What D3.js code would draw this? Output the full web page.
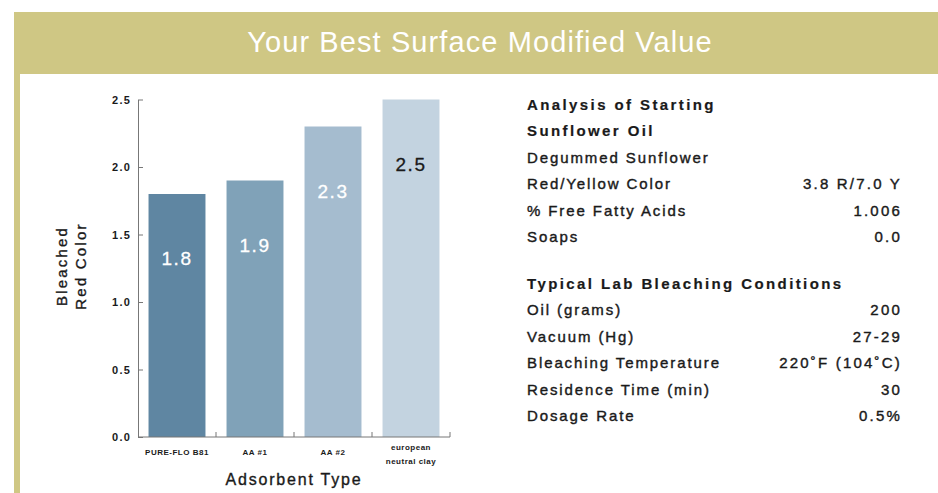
<!DOCTYPE html>
<html>
<head>
<meta charset="utf-8">
<script src="https://cdn.jsdelivr.net/npm/d3@7"></script>
<style>
  html, body { margin: 0; padding: 0; background: #ffffff; }
  svg { display: block; font-family: "Liberation Sans", Arial, Helvetica, sans-serif; }
</style>
</head>
<body>
<svg id="chart" width="938" height="493"></svg>
<script>
// ---- data ----
const title = "Your Best Surface Modified Value";
const categories = ["PURE-FLO B81", "AA #1", "AA #2", "european\nneutral clay"];
const values = [1.8, 1.9, 2.3, 2.5];
const yTicks = [0, 0.5, 1.0, 1.5, 2.0, 2.5];
const yTitleLines = ["Bleached", "Red Color"];
const xTitle = "Adsorbent Type";

const analysisLabels = ["Analysis of Starting", "Sunflower Oil", "Degummed Sunflower", "Red/Yellow Color", "% Free Fatty Acids", "Soaps"];
const analysisValues = ["", "", "", "3.8 R/7.0 Y", "1.006", "0.0"];
const analysisBold = [true, true, false, false, false, false];
const conditionLabels = ["Typical Lab Bleaching Conditions", "Oil (grams)", "Vacuum (Hg)", "Bleaching Temperature", "Residence Time (min)", "Dosage Rate"];
const conditionValues = ["", "200", "27-29", "220\u02DAF (104\u02DAC)", "30", "0.5%"];
const conditionBold = [true, false, false, false, false, false];

// ---- styles ----
const barColors = ["#5f86a2", "#80a2b8", "#a5bccf", "#c3d3e0"];
const labelColors = ["#ffffff", "#ffffff", "#ffffff", "#1a1a1a"];
const gold = "#cfc784";
const ink = "#1a1a1a";

const svg = d3.select("#chart");

// frame: banner + left strip
svg.append("rect").attr("x", 14).attr("y", 12).attr("width", 924).attr("height", 62).attr("fill", gold);
svg.append("rect").attr("x", 14).attr("y", 12).attr("width", 6).attr("height", 481).attr("fill", gold);
svg.append("text")
  .attr("x", 480).attr("y", 52)
  .attr("text-anchor", "middle")
  .attr("fill", "#ffffff")
  .attr("font-size", 29)
  .attr("letter-spacing", 1.1)
  .text(title);

// ---- chart ----
const x0 = 138, x1 = 450, yBottom = 437, yTop = 99.5;
const x = d3.scaleBand().domain(d3.range(categories.length)).range([x0, x1])
  .paddingInner(0.27).paddingOuter(0.135);
const y = d3.scaleLinear().domain([0, 2.5]).range([yBottom, yTop]);

const g = svg.append("g");

g.selectAll("rect.bar").data(values).join("rect")
  .attr("class", "bar")
  .attr("x", (d, i) => x(i))
  .attr("y", d => y(d))
  .attr("width", x.bandwidth())
  .attr("height", d => y(0) - y(d))
  .attr("fill", (d, i) => barColors[i]);

g.selectAll("text.val").data(values).join("text")
  .attr("class", "val")
  .attr("x", (d, i) => x(i) + x.bandwidth() / 2)
  .attr("y", d => y(d) + 71)
  .attr("text-anchor", "middle")
  .attr("font-size", 19)
  .attr("letter-spacing", 1.5)
  .attr("fill", (d, i) => labelColors[i])
  .attr("stroke", (d, i) => labelColors[i])
  .attr("stroke-width", 0.3)
  .text(d => d3.format(".1f")(d));

// y axis
const yAxis = d3.axisLeft(y).tickValues(yTicks).tickFormat(d3.format(".1f"))
  .tickSizeInner(-5).tickSizeOuter(0).tickPadding(7);
const ya = svg.append("g").attr("transform", `translate(${x0},0)`).call(yAxis);
ya.select(".domain").attr("stroke", "#777");
ya.selectAll(".tick line").attr("stroke", "#777");
ya.selectAll(".tick text")
  .attr("font-family", "Liberation Sans, Arial, sans-serif")
  .attr("font-size", 11).attr("font-weight", "bold")
  .attr("letter-spacing", 1.2)
  .attr("fill", ink);

// x axis (line with ticks at band boundaries)
const xa = svg.append("g");
xa.append("line").attr("x1", x0).attr("x2", x1).attr("y1", yBottom).attr("y2", yBottom).attr("stroke", "#777");
const boundaries = d3.range(1, categories.length).map(i => x(i) - x.step() * x.paddingInner() / 2).concat([x1]);
xa.selectAll("line.bt").data(boundaries).join("line")
  .attr("class", "bt")
  .attr("x1", d => d).attr("x2", d => d)
  .attr("y1", yBottom).attr("y2", yBottom - 5)
  .attr("stroke", "#777");

const xl = xa.selectAll("text.cat").data(categories).join("text")
  .attr("class", "cat")
  .attr("x", (d, i) => x(i) + x.bandwidth() / 2)
  .attr("text-anchor", "middle")
  .attr("font-size", 8).attr("font-weight", "bold")
  .attr("letter-spacing", 0.5)
  .attr("fill", ink);
xl.each(function(d, i) {
  const lines = d.split("\n");
  const sel = d3.select(this);
  const cx = x(i) + x.bandwidth() / 2;
  const startY = lines.length > 1 ? 450 : 455;
  lines.forEach((ln, k) => {
    sel.append("tspan").attr("x", cx).attr("y", startY + k * 14).text(ln);
  });
});

// axis titles
svg.append("text")
  .attr("x", (x0 + x1) / 2).attr("y", 485)
  .attr("text-anchor", "middle")
  .attr("font-size", 16)
  .attr("letter-spacing", 1.8)
  .attr("fill", ink)
  .attr("stroke", ink).attr("stroke-width", 0.35)
  .text(xTitle);

yTitleLines.forEach((ln, k) => {
  svg.append("text")
    .attr("transform", `translate(${67 + k * 19},266) rotate(-90)`)
    .attr("text-anchor", "middle")
    .attr("font-size", 15)
    .attr("letter-spacing", 2.2)
    .attr("fill", ink)
    .attr("stroke", ink).attr("stroke-width", 0.35)
    .text(ln);
});

// ---- info table ----
const colL = 527, colR = 902;
function table(labels, vals, bold, top) {
  const row = d3.scaleLinear().domain([0, 1]).range([top, top + 26.5]);
  const t = svg.append("g");
  t.selectAll("text.l").data(labels).join("text")
    .attr("class", "l")
    .attr("x", colL).attr("y", (d, i) => row(i))
    .attr("font-size", 15)
    .attr("font-weight", (d, i) => bold[i] ? "bold" : "normal")
    .attr("letter-spacing", (d, i) => bold[i] ? 2.4 : 1.9)
    .attr("fill", ink)
    .attr("stroke", ink).attr("stroke-width", (d, i) => bold[i] ? 0.2 : 0.4)
    .text(d => d);
  t.selectAll("text.v").data(vals).join("text")
    .attr("class", "v")
    .attr("x", colR).attr("y", (d, i) => row(i))
    .attr("text-anchor", "end")
    .attr("font-size", 15)
    .attr("letter-spacing", 2.2)
    .attr("fill", ink)
    .attr("stroke", ink).attr("stroke-width", 0.4)
    .text(d => d);
}
table(analysisLabels, analysisValues, analysisBold, 109.5);
table(conditionLabels, conditionValues, conditionBold, 288.5);
</script>
</body>
</html>
